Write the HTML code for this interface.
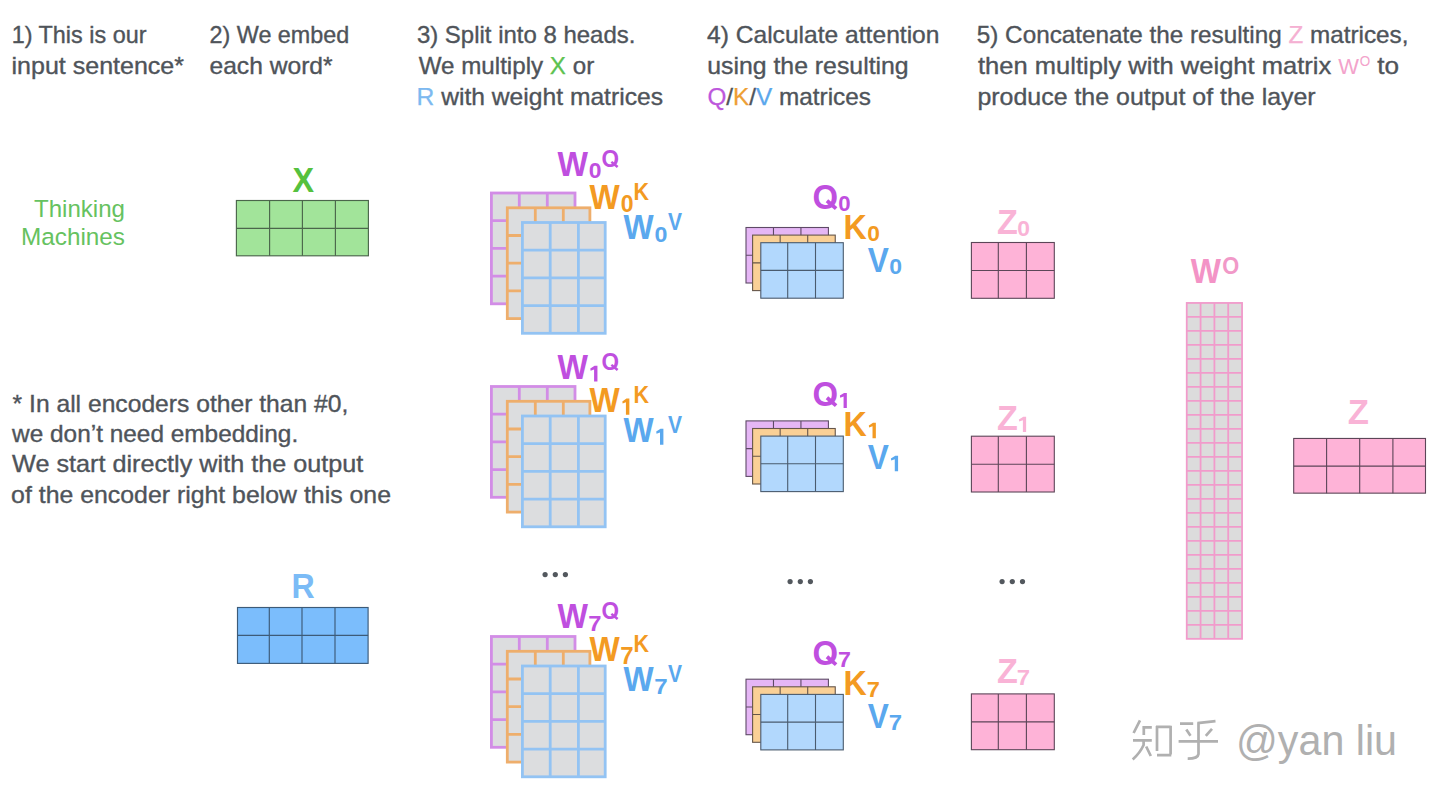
<!DOCTYPE html><html><head><meta charset="utf-8"><style>html,body{margin:0;padding:0;background:#fff;width:1436px;height:804px;overflow:hidden}svg{display:block}text{font-family:"Liberation Sans",sans-serif}</style></head><body>
<svg width="1436" height="804" viewBox="0 0 1436 804">
<g stroke="#4f545a" stroke-width="0.35">
<text x="11.7" y="43" font-size="23.2" fill="#4f545a" textLength="134.8" lengthAdjust="spacingAndGlyphs">1) This is our</text>
<text x="11.5" y="73.5" font-size="23.2" fill="#4f545a" textLength="172.5" lengthAdjust="spacingAndGlyphs">input sentence*</text>
<text x="209.5" y="43" font-size="23.2" fill="#4f545a" textLength="139.8" lengthAdjust="spacingAndGlyphs">2) We embed</text>
<text x="209.5" y="73.5" font-size="23.2" fill="#4f545a" textLength="123.1" lengthAdjust="spacingAndGlyphs">each word*</text>
<text x="416.9" y="43" font-size="23.2" fill="#4f545a" textLength="218.5" lengthAdjust="spacingAndGlyphs">3) Split into 8 heads.</text>
<text x="418.7" y="73.5" font-size="23.2" fill="#4f545a" textLength="175.5" lengthAdjust="spacingAndGlyphs">We multiply <tspan fill="#5cc250" stroke="#5cc250" stroke-width="0.25">X</tspan> or</text>
<text x="416.5" y="104.5" font-size="23.2" fill="#4f545a" textLength="246.5" lengthAdjust="spacingAndGlyphs"><tspan fill="#7db9f0" stroke="#7db9f0" stroke-width="0.25">R</tspan> with weight matrices</text>
<text x="707.0" y="43" font-size="23.2" fill="#4f545a" textLength="232.5" lengthAdjust="spacingAndGlyphs">4) Calculate attention</text>
<text x="707.2" y="73.5" font-size="23.2" fill="#4f545a" textLength="201.5" lengthAdjust="spacingAndGlyphs">using the resulting</text>
<text x="707.4" y="104.5" font-size="23.2" fill="#4f545a" textLength="163.6" lengthAdjust="spacingAndGlyphs"><tspan fill="#bd57dc" stroke="#bd57dc" stroke-width="0.25">Q</tspan>/<tspan fill="#ee9f35" stroke="#ee9f35" stroke-width="0.25">K</tspan>/<tspan fill="#5ba7ec" stroke="#5ba7ec" stroke-width="0.25">V</tspan> matrices</text>
<text x="976.8" y="43" font-size="23.2" fill="#4f545a" textLength="431.7" lengthAdjust="spacingAndGlyphs">5) Concatenate the resulting <tspan fill="#f5b0d2" stroke="#f5b0d2" stroke-width="0.25">Z</tspan> matrices,</text>
<text x="978.0" y="73.5" font-size="23.2" fill="#4f545a" textLength="353.2" lengthAdjust="spacingAndGlyphs">then multiply with weight matrix</text>
<text x="977.4" y="104.5" font-size="23.2" fill="#4f545a" textLength="338.3" lengthAdjust="spacingAndGlyphs">produce the output of the layer</text>
<text x="12.6" y="411.7" font-size="23.2" fill="#4f545a" textLength="335.7" lengthAdjust="spacingAndGlyphs">* In all encoders other than #0,</text>
<text x="12.1" y="441.6" font-size="23.2" fill="#4f545a" textLength="286.1" lengthAdjust="spacingAndGlyphs">we don’t need embedding.</text>
<text x="12.1" y="472.4" font-size="23.2" fill="#4f545a" textLength="351.2" lengthAdjust="spacingAndGlyphs">We start directly with the output</text>
<text x="11.1" y="502.8" font-size="23.2" fill="#4f545a" textLength="379.9" lengthAdjust="spacingAndGlyphs">of the encoder right below this one</text>
<text x="1377.2" y="73.5" font-size="23.2" fill="#4f545a" textLength="21.8" lengthAdjust="spacingAndGlyphs">to</text>
</g>
<text transform="translate(1338.3,73.7) scale(0.97,1)" font-size="22.67" font-weight="normal" fill="#f3a3cb">W</text>
<text transform="translate(1359.76,65.75) scale(0.9,1)" font-size="14.97" font-weight="normal" fill="#f3a3cb">O</text>
<g fill="#66c260">
<text x="34" y="216.9" font-size="24.5" textLength="91" lengthAdjust="spacingAndGlyphs">Thinking</text>
<text x="21" y="244.7" font-size="24.5" textLength="104" lengthAdjust="spacingAndGlyphs">Machines</text>
</g>
<text transform="translate(292.52,191.8) scale(0.93,1)" font-size="34.74" font-weight="bold" fill="#55c13e">X</text>
<rect x="236.4" y="200.5" width="132" height="55.3" fill="#a2e49a" stroke="#4b664b" stroke-width="1.15"/><path d="M269.6 200.5V255.8M302.4 200.5V255.8M335.4 200.5V255.8M236.4 228.3H368.4" fill="none" stroke="#4b664b" stroke-width="1.15"/>
<text transform="translate(291.45,597.9) scale(0.94,1)" font-size="34.16" font-weight="bold" fill="#7bbbf6">R</text>
<rect x="237.5" y="607.5" width="130.6" height="55.9" fill="#7bbdfc" stroke="#3d5b78" stroke-width="1.15"/><path d="M269.3 607.5V663.4M302 607.5V663.4M335 607.5V663.4M237.5 635.4H368.1" fill="none" stroke="#3d5b78" stroke-width="1.15"/>
<rect x="491.4" y="193" width="83.6" height="110.8" fill="#dcdddf" stroke="#d28de6" stroke-width="2.8"/><path d="M519.3 193V303.8M547.3 193V303.8M491.4 220.7H575M491.4 248.4H575M491.4 276.1H575" fill="none" stroke="#d28de6" stroke-width="2.8"/>
<rect x="507.3" y="207.8" width="82.6" height="110.8" fill="#dcdddf" stroke="#eeae6c" stroke-width="2.8"/><path d="M535.3 207.8V318.6M563.3 207.8V318.6M507.3 235.5H589.9M507.3 263.2H589.9M507.3 290.9H589.9" fill="none" stroke="#eeae6c" stroke-width="2.8"/>
<rect x="522.4" y="222.5" width="82.8" height="110.8" fill="#dcdddf" stroke="#93c3f3" stroke-width="2.8"/><path d="M550.2 222.5V333.3M578.4 222.5V333.3M522.4 250.2H605.2M522.4 277.9H605.2M522.4 305.6H605.2" fill="none" stroke="#93c3f3" stroke-width="2.8"/>
<rect x="491.4" y="386.5" width="83.6" height="110.8" fill="#dcdddf" stroke="#d28de6" stroke-width="2.8"/><path d="M519.3 386.5V497.3M547.3 386.5V497.3M491.4 414.2H575M491.4 441.9H575M491.4 469.6H575" fill="none" stroke="#d28de6" stroke-width="2.8"/>
<rect x="507.3" y="401.3" width="82.6" height="110.8" fill="#dcdddf" stroke="#eeae6c" stroke-width="2.8"/><path d="M535.3 401.3V512.1M563.3 401.3V512.1M507.3 429H589.9M507.3 456.7H589.9M507.3 484.4H589.9" fill="none" stroke="#eeae6c" stroke-width="2.8"/>
<rect x="522.4" y="416" width="82.8" height="110.8" fill="#dcdddf" stroke="#93c3f3" stroke-width="2.8"/><path d="M550.2 416V526.8M578.4 416V526.8M522.4 443.7H605.2M522.4 471.4H605.2M522.4 499.1H605.2" fill="none" stroke="#93c3f3" stroke-width="2.8"/>
<rect x="491.4" y="636.5" width="83.6" height="110.8" fill="#dcdddf" stroke="#d28de6" stroke-width="2.8"/><path d="M519.3 636.5V747.3M547.3 636.5V747.3M491.4 664.2H575M491.4 691.9H575M491.4 719.6H575" fill="none" stroke="#d28de6" stroke-width="2.8"/>
<rect x="507.3" y="651.3" width="82.6" height="110.8" fill="#dcdddf" stroke="#eeae6c" stroke-width="2.8"/><path d="M535.3 651.3V762.1M563.3 651.3V762.1M507.3 679H589.9M507.3 706.7H589.9M507.3 734.4H589.9" fill="none" stroke="#eeae6c" stroke-width="2.8"/>
<rect x="522.4" y="666" width="82.8" height="110.8" fill="#dcdddf" stroke="#93c3f3" stroke-width="2.8"/><path d="M550.2 666V776.8M578.4 666V776.8M522.4 693.7H605.2M522.4 721.4H605.2M522.4 749.1H605.2" fill="none" stroke="#93c3f3" stroke-width="2.8"/>
<text transform="translate(557.57,175.8) scale(0.93,1)" font-size="34.74" font-weight="bold" fill="#bf4fdf">W</text>
<text transform="translate(588.69,178.48) scale(1.02,1)" font-size="22.46" font-weight="bold" fill="#bf4fdf">0</text>
<text transform="translate(601.58,167.27) scale(0.96,1)" font-size="23.45" font-weight="bold" fill="#bf4fdf">O</text>
<path d="M611.39 161.86L617.63 167" stroke="#bf4fdf" stroke-width="2.49"/>
<text transform="translate(589.57,208.8) scale(0.91,1)" font-size="35.18" font-weight="bold" fill="#f39a22">W</text>
<text transform="translate(620.69,211.68) scale(1,1)" font-size="23.02" font-weight="bold" fill="#f39a22">0</text>
<text transform="translate(633.56,200) scale(0.93,1)" font-size="23.11" font-weight="bold" fill="#f39a22">K</text>
<text transform="translate(623.57,238.8) scale(0.92,1)" font-size="34.74" font-weight="bold" fill="#5aa8ee">W</text>
<text transform="translate(654.59,241.68) scale(1.02,1)" font-size="22.74" font-weight="bold" fill="#5aa8ee">0</text>
<text transform="translate(668.06,230) scale(0.91,1)" font-size="23.11" font-weight="bold" fill="#5aa8ee">V</text>
<text transform="translate(557.57,378.8) scale(0.93,1)" font-size="34.74" font-weight="bold" fill="#bf4fdf">W</text>
<path d="M590.31 368.55L594.59 365.8H597.44V381.5H594.08V369.47L590.62 370.69Z" fill="#bf4fdf"/>
<text transform="translate(601.58,370.27) scale(0.96,1)" font-size="23.45" font-weight="bold" fill="#bf4fdf">O</text>
<path d="M611.39 364.86L617.63 370" stroke="#bf4fdf" stroke-width="2.49"/>
<text transform="translate(589.57,411.8) scale(0.91,1)" font-size="35.18" font-weight="bold" fill="#f39a22">W</text>
<path d="M622.33 401.42L626.44 398.6H629.37V414.7H625.92V402.36L622.64 403.62Z" fill="#f39a22"/>
<text transform="translate(633.56,403) scale(0.93,1)" font-size="23.11" font-weight="bold" fill="#f39a22">K</text>
<text transform="translate(623.57,441.8) scale(0.92,1)" font-size="34.74" font-weight="bold" fill="#5aa8ee">W</text>
<path d="M656.22 431.59L660.51 428.8H663.4V444.7H660V432.52L656.53 433.75Z" fill="#5aa8ee"/>
<text transform="translate(668.06,433) scale(0.91,1)" font-size="23.11" font-weight="bold" fill="#5aa8ee">V</text>
<text transform="translate(557.57,627.8) scale(0.93,1)" font-size="34.74" font-weight="bold" fill="#bf4fdf">W</text>
<text transform="translate(588.27,630.5) scale(1.05,1)" font-size="22.67" font-weight="bold" fill="#bf4fdf">7</text>
<text transform="translate(601.58,619.27) scale(0.96,1)" font-size="23.45" font-weight="bold" fill="#bf4fdf">O</text>
<path d="M611.39 613.86L617.63 619" stroke="#bf4fdf" stroke-width="2.49"/>
<text transform="translate(589.57,660.8) scale(0.91,1)" font-size="35.18" font-weight="bold" fill="#f39a22">W</text>
<text transform="translate(620.27,663.7) scale(1.03,1)" font-size="23.26" font-weight="bold" fill="#f39a22">7</text>
<text transform="translate(633.56,652) scale(0.93,1)" font-size="23.11" font-weight="bold" fill="#f39a22">K</text>
<text transform="translate(623.57,690.8) scale(0.92,1)" font-size="34.74" font-weight="bold" fill="#5aa8ee">W</text>
<text transform="translate(654.17,693.7) scale(1.05,1)" font-size="22.97" font-weight="bold" fill="#5aa8ee">7</text>
<text transform="translate(668.06,682) scale(0.91,1)" font-size="23.11" font-weight="bold" fill="#5aa8ee">V</text>
<rect x="746" y="227.5" width="82.41" height="55.5" fill="#e5b6f5" stroke="#5e4a66" stroke-width="1.1"/><path d="M773.47 227.5V283M800.94 227.5V283M746 255.25H828.41" fill="none" stroke="#5e4a66" stroke-width="1.1"/>
<rect x="752.6" y="235.1" width="82.65" height="55.5" fill="#fad096" stroke="#66564a" stroke-width="1.1"/><path d="M780.15 235.1V290.6M807.7 235.1V290.6M752.6 262.85H835.25" fill="none" stroke="#66564a" stroke-width="1.1"/>
<rect x="760.8" y="242.7" width="82.5" height="55.5" fill="#b2d8fd" stroke="#4a5b6e" stroke-width="1.1"/><path d="M787.7 242.7V298.2M815.5 242.7V298.2M760.8 270.4H843.3" fill="none" stroke="#4a5b6e" stroke-width="1.1"/>
<rect x="746" y="420.9" width="82.41" height="55.5" fill="#e5b6f5" stroke="#5e4a66" stroke-width="1.1"/><path d="M773.47 420.9V476.4M800.94 420.9V476.4M746 448.65H828.41" fill="none" stroke="#5e4a66" stroke-width="1.1"/>
<rect x="752.6" y="428.5" width="82.65" height="55.5" fill="#fad096" stroke="#66564a" stroke-width="1.1"/><path d="M780.15 428.5V484M807.7 428.5V484M752.6 456.25H835.25" fill="none" stroke="#66564a" stroke-width="1.1"/>
<rect x="760.8" y="436.1" width="82.5" height="55.5" fill="#b2d8fd" stroke="#4a5b6e" stroke-width="1.1"/><path d="M787.7 436.1V491.6M815.5 436.1V491.6M760.8 463.8H843.3" fill="none" stroke="#4a5b6e" stroke-width="1.1"/>
<rect x="746" y="679.2" width="82.41" height="55.5" fill="#e5b6f5" stroke="#5e4a66" stroke-width="1.1"/><path d="M773.47 679.2V734.7M800.94 679.2V734.7M746 706.95H828.41" fill="none" stroke="#5e4a66" stroke-width="1.1"/>
<rect x="752.6" y="686.8" width="82.65" height="55.5" fill="#fad096" stroke="#66564a" stroke-width="1.1"/><path d="M780.15 686.8V742.3M807.7 686.8V742.3M752.6 714.55H835.25" fill="none" stroke="#66564a" stroke-width="1.1"/>
<rect x="760.8" y="694.4" width="82.5" height="55.5" fill="#b2d8fd" stroke="#4a5b6e" stroke-width="1.1"/><path d="M787.7 694.4V749.9M815.5 694.4V749.9M760.8 722.1H843.3" fill="none" stroke="#4a5b6e" stroke-width="1.1"/>
<text transform="translate(812.55,209.05) scale(0.92,1)" font-size="35.73" font-weight="bold" fill="#bf4fdf">O</text>
<path d="M826.95 200.8L836.11 208.64" stroke="#bf4fdf" stroke-width="3.8"/>
<text transform="translate(838.32,211.09) scale(1.02,1)" font-size="21.75" font-weight="bold" fill="#bf4fdf">0</text>
<text transform="translate(843.5,238.7) scale(0.92,1)" font-size="35.03" font-weight="bold" fill="#f39a22">K</text>
<text transform="translate(867.2,241.28) scale(1.02,1)" font-size="22.32" font-weight="bold" fill="#f39a22">0</text>
<text transform="translate(867.78,271.8) scale(0.91,1)" font-size="34.74" font-weight="bold" fill="#5aa8ee">V</text>
<text transform="translate(889.29,274.18) scale(1.04,1)" font-size="22.1" font-weight="bold" fill="#5aa8ee">0</text>
<text transform="translate(812.55,406.05) scale(0.92,1)" font-size="35.73" font-weight="bold" fill="#bf4fdf">O</text>
<path d="M826.95 397.8L836.11 405.64" stroke="#bf4fdf" stroke-width="3.79"/>
<path d="M839.89 395.57L844.07 392.9H846.84V408.1H843.58V396.45L840.19 397.64Z" fill="#bf4fdf"/>
<text transform="translate(843.5,435.7) scale(0.92,1)" font-size="35.03" font-weight="bold" fill="#f39a22">K</text>
<path d="M868.81 425.43L873.03 422.7H875.86V438.3H872.52V426.35L869.11 427.56Z" fill="#f39a22"/>
<text transform="translate(867.78,468.8) scale(0.91,1)" font-size="34.74" font-weight="bold" fill="#5aa8ee">V</text>
<path d="M890.9 458.46L895.28 455.75H898.09V471.2H894.78V459.36L891.2 460.57Z" fill="#5aa8ee"/>
<text transform="translate(812.55,665.05) scale(0.92,1)" font-size="35.73" font-weight="bold" fill="#bf4fdf">O</text>
<path d="M826.95 656.8L836.11 664.64" stroke="#bf4fdf" stroke-width="3.79"/>
<text transform="translate(837.9,667.1) scale(1.06,1)" font-size="21.95" font-weight="bold" fill="#bf4fdf">7</text>
<text transform="translate(843.5,694.7) scale(0.92,1)" font-size="35.03" font-weight="bold" fill="#f39a22">K</text>
<text transform="translate(866.78,697.3) scale(1.05,1)" font-size="22.53" font-weight="bold" fill="#f39a22">7</text>
<text transform="translate(867.78,727.8) scale(0.91,1)" font-size="34.74" font-weight="bold" fill="#5aa8ee">V</text>
<text transform="translate(888.87,730.2) scale(1.07,1)" font-size="22.31" font-weight="bold" fill="#5aa8ee">7</text>
<g fill="#53585e">
<circle cx="545.1" cy="574.55" r="2.6"/>
<circle cx="555.3" cy="574.55" r="2.6"/>
<circle cx="565.4" cy="574.55" r="2.6"/>
<circle cx="790.1" cy="581.6" r="2.6"/>
<circle cx="800.3" cy="581.6" r="2.6"/>
<circle cx="810.4" cy="581.6" r="2.6"/>
<circle cx="1002.1" cy="581.6" r="2.6"/>
<circle cx="1012.3" cy="581.6" r="2.6"/>
<circle cx="1022.5" cy="581.6" r="2.6"/>
</g>
<rect x="971.4" y="242.5" width="82.9" height="55.8" fill="#feb3d7" stroke="#5c4658" stroke-width="1.1"/><path d="M998.3 242.5V298.3M1026.4 242.5V298.3M971.4 270.5H1054.3" fill="none" stroke="#5c4658" stroke-width="1.1"/>
<text transform="translate(996.98,233.7) scale(0.99,1)" font-size="34.45" font-weight="bold" fill="#f9b3d6">Z</text>
<text transform="translate(1017.29,236.09) scale(1.05,1)" font-size="21.75" font-weight="bold" fill="#f9b3d6">0</text>
<rect x="971.4" y="436.2" width="82.9" height="55.8" fill="#feb3d7" stroke="#5c4658" stroke-width="1.1"/><path d="M998.3 436.2V492M1026.4 436.2V492M971.4 464.2H1054.3" fill="none" stroke="#5c4658" stroke-width="1.1"/>
<text transform="translate(996.98,429.6) scale(0.99,1)" font-size="34.45" font-weight="bold" fill="#f9b3d6">Z</text>
<path d="M1018.89 419.47L1023.37 416.8H1026.14V432H1022.88V420.35L1019.19 421.54Z" fill="#f9b3d6"/>
<rect x="971.4" y="693.9" width="82.9" height="55.8" fill="#feb3d7" stroke="#5c4658" stroke-width="1.1"/><path d="M998.3 693.9V749.7M1026.4 693.9V749.7M971.4 721.9H1054.3" fill="none" stroke="#5c4658" stroke-width="1.1"/>
<text transform="translate(996.98,682.7) scale(0.99,1)" font-size="34.45" font-weight="bold" fill="#f9b3d6">Z</text>
<text transform="translate(1016.87,685.1) scale(1.09,1)" font-size="21.95" font-weight="bold" fill="#f9b3d6">7</text>
<rect x="1186.75" y="302.95" width="55.3" height="335.9" fill="#dcdcdc" stroke="#f19bcb" stroke-width="1.8"/><path d="M1200.58 302.95V638.85M1214.4 302.95V638.85M1228.22 302.95V638.85M1186.75 316.95H1242.05M1186.75 330.94H1242.05M1186.75 344.94H1242.05M1186.75 358.93H1242.05M1186.75 372.93H1242.05M1186.75 386.92H1242.05M1186.75 400.92H1242.05M1186.75 414.92H1242.05M1186.75 428.91H1242.05M1186.75 442.91H1242.05M1186.75 456.9H1242.05M1186.75 470.9H1242.05M1186.75 484.9H1242.05M1186.75 498.89H1242.05M1186.75 512.89H1242.05M1186.75 526.88H1242.05M1186.75 540.88H1242.05M1186.75 554.88H1242.05M1186.75 568.87H1242.05M1186.75 582.87H1242.05M1186.75 596.86H1242.05M1186.75 610.86H1242.05M1186.75 624.85H1242.05" fill="none" stroke="#f19bcb" stroke-width="1.8"/>
<text transform="translate(1190.77,282.9) scale(0.91,1)" font-size="35.18" font-weight="bold" fill="#f393c6">W</text>
<text transform="translate(1222.2,274.37) scale(0.92,1)" font-size="23.73" font-weight="bold" fill="#f199c8">O</text>
<rect x="1293.7" y="438.45" width="131.8" height="54.7" fill="#feb3d7" stroke="#5c4658" stroke-width="1.1"/><path d="M1326.6 438.45V493.15M1359.7 438.45V493.15M1392.9 438.45V493.15M1293.7 466.15H1425.5" fill="none" stroke="#5c4658" stroke-width="1.1"/>
<text transform="translate(1347.76,423.9) scale(0.99,1)" font-size="35.03" font-weight="bold" fill="#f9b3d6">Z</text>
<g fill="none" stroke="#b0b0b0" stroke-width="2.7" stroke-linecap="butt">
<path d="M1140 720.4L1133.6 733M1142.4 727.4H1151.8M1143.8 726.7V735M1133 740.3H1151.8M1143.6 740V745Q1140 753 1132.7 759.4M1146.2 746.5L1150.8 756"/>
<path d="M1157 726V751M1156 726.8H1170.6M1170.6 725.7V754.6M1157 755.2H1171.3"/>
<path d="M1180 723.6H1193.2M1197.4 723.2L1215.5 721.1M1186.3 729.5L1190.5 735.8M1212 728.8L1205.8 735.8M1198.5 722.5V754Q1198 758.7 1187.7 758.7M1178.6 741.3H1218"/>
</g>
<g fill="#b0b0b0">
<text x="1236" y="754.5" font-size="42" textLength="161" lengthAdjust="spacingAndGlyphs">@yan liu</text>
</g>
</svg></body></html>
